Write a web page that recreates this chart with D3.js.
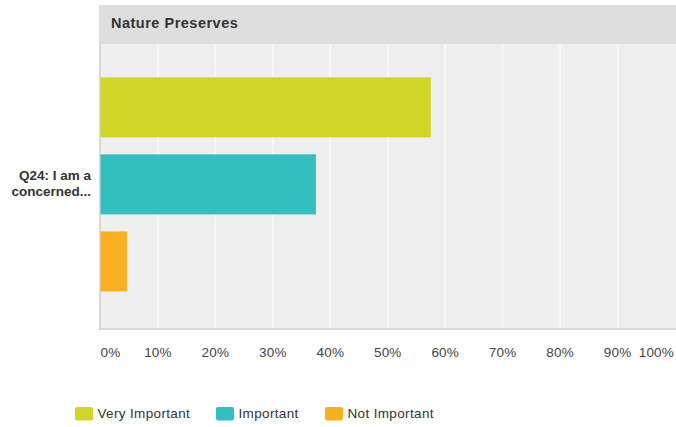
<!DOCTYPE html>
<html><head><meta charset="utf-8">
<script src="https://cdn.jsdelivr.net/npm/d3@7"></script>
<style>body{margin:0;background:#fff}svg{display:block;font-family:"Liberation Sans",Arial,sans-serif}</style>
</head><body><svg id="c" width="676" height="427"></svg>
<script>
const title = "Nature Preserves";
const questionLines = ["Q24: I am a", "concerned..."];
const categories = ["Very Important", "Important", "Not Important"];
const values = [57.5, 37.5, 4.6];
const colors = ["#d0d629", "#35bec0", "#f7b022"];
const ticks = [0,10,20,30,40,50,60,70,80,90,100];

const svg = d3.select("#c");
const x = d3.scaleLinear().domain([0,100]).range([100.5, 675]);
const y = d3.scaleBand().domain(categories).range([44, 329]).paddingInner(0.2208).paddingOuter(0.46).align(0.47);

// header
svg.append("rect").attr("x",99).attr("y",5).attr("width",577).attr("height",39).attr("fill","#dedede");
svg.append("text").attr("x",111).attr("y",28).attr("font-size",14.5).attr("font-weight","bold")
  .attr("letter-spacing",0.5).attr("fill","#333").text(title);

// plot bg
svg.append("rect").attr("x",100).attr("y",44).attr("width",576).attr("height",285).attr("fill","#efefef");
// grid
svg.append("g").selectAll("line").data(ticks.slice(1,10)).join("line")
  .attr("x1",d=>x(d)).attr("x2",d=>x(d)).attr("y1",44).attr("y2",329)
  .attr("stroke","#fafafa").attr("stroke-width",1.5);
// bottom line
svg.append("line").attr("x1",99).attr("x2",676).attr("y1",329).attr("y2",329).attr("stroke","#d8d8d8").attr("stroke-width",2);
// left axis
svg.append("line").attr("x1",100).attr("x2",100).attr("y1",44).attr("y2",330).attr("stroke","#cfcfcf").attr("stroke-width",1.5);

// bars
svg.append("g").selectAll("rect").data(categories).join("rect")
  .attr("x",x(0)).attr("y",d=>y(d)).attr("height",y.bandwidth())
  .attr("width",(d,i)=>x(values[i])-x(0)).attr("fill",(d,i)=>colors[i]);

// tick labels
svg.append("g").selectAll("text").data(ticks).join("text")
  .attr("x",(d,i)=> i===0 ? x(d) : (i===ticks.length-1 ? x(d)-1 : x(d)))
  .attr("y",357).attr("font-size",13.5).attr("letter-spacing",0.2).attr("fill","#444")
  .attr("text-anchor",(d,i)=> i===0 ? "start" : (i===ticks.length-1 ? "end" : "middle"))
  .text(d=>d+"%");

// y label
svg.append("g").selectAll("text").data(questionLines).join("text")
  .attr("x",91).attr("y",(d,i)=>180+i*16).attr("text-anchor","end")
  .attr("font-size",13.5).attr("font-weight","bold").attr("fill","#333").text(d=>d);

// legend
const legX = [75, 216, 325];
const lg = svg.append("g").selectAll("g").data(categories).join("g")
  .attr("transform",(d,i)=>`translate(${legX[i]},407)`);
lg.append("rect").attr("width",18).attr("height",13.5).attr("rx",2).attr("fill",(d,i)=>colors[i]);
lg.append("text").attr("x",22.5).attr("y",11).attr("font-size",13.5).attr("letter-spacing",0.35).attr("fill","#333").text(d=>d);
</script></body></html>
